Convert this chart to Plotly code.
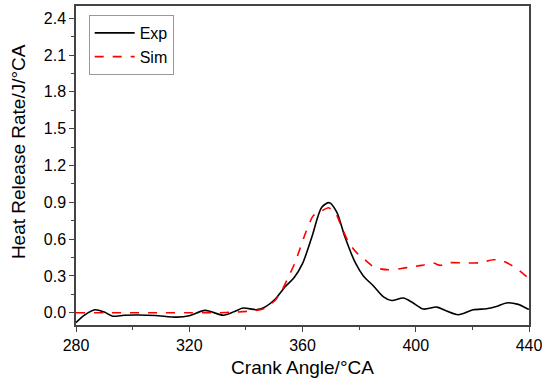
import plotly.graph_objects as go

exp_x = [280, 283, 286.7, 290, 293, 297, 302, 308, 315.6, 320, 325.6, 332, 336, 339, 344, 347,
         350.3, 353.8, 357, 360, 363.3, 366.8, 369.5, 372.1, 375, 378.6, 381.5, 385, 388.6, 391.5,
         395.6, 398.6, 402.7, 407.4, 410.3, 415, 420.3, 425, 428.5, 432, 436.2, 439.4, 440]
exp_y = [-0.08, -0.02, 0.024, 0.005, -0.028, -0.02, -0.018, -0.022, -0.036, -0.025, 0.019, -0.02, 0.01, 0.038, 0.025, 0.05,
         0.11, 0.21, 0.285, 0.40, 0.617, 0.86, 0.897, 0.82, 0.617, 0.41, 0.30, 0.22, 0.13, 0.10,
         0.12, 0.087, 0.03, 0.046, 0.02, -0.016, 0.024, 0.033, 0.05, 0.08, 0.068, 0.033, 0.028]

sim_x = [280, 290, 300, 310, 320, 330, 336, 341.5, 346, 350.3, 352.7, 355, 357.4, 360.9, 363.8,
         366.8, 369.1, 371.5, 373.8, 376.2, 379.1, 382.1, 385.6, 390.3, 395, 398, 402.1, 406.2,
         408.6, 412.1, 418, 422.7, 427.4, 431, 435.7, 439.8, 440]
sim_y = [0.0, 0.0, 0.0, 0.0, 0.0, 0.0, 0.005, 0.013, 0.03, 0.10, 0.18, 0.29, 0.41, 0.64, 0.79,
         0.83, 0.856, 0.82, 0.70, 0.576, 0.49, 0.43, 0.367, 0.35, 0.36, 0.372, 0.386, 0.405,
         0.386, 0.408, 0.405, 0.408, 0.432, 0.42, 0.36, 0.28, 0.27]

x_ticks = [280, 320, 360, 400, 440]
y_ticks = [0.0, 0.3, 0.6, 0.9, 1.2, 1.5, 1.8, 2.1, 2.4]
y_labels = ["0.0", "0.3", "0.6", "0.9", "1.2", "1.5", "1.8", "2.1", "2.4"]

font_family = "Liberation Sans, Arial, sans-serif"

fig = go.Figure()
fig.add_trace(go.Scatter(x=exp_x, y=exp_y, mode="lines", name="Exp",
                         line=dict(color="black", width=1.6, shape="spline", smoothing=0.8)))
fig.add_trace(go.Scatter(x=sim_x, y=sim_y, mode="lines", name="Sim",
                         line=dict(color="#ff0000", width=1.6, dash="dash", shape="spline", smoothing=0.6)))

axis_common = dict(showgrid=False, zeroline=False, showline=True, linecolor="#444444", linewidth=1.5,
                   mirror=True, ticks="outside", ticklen=5, tickwidth=1.2, tickcolor="#444444",
                   automargin=False,
                   tickfont=dict(size=16, color="black", family=font_family))

fig.update_xaxes(range=[280, 440], tickvals=x_ticks, ticktext=[str(v) for v in x_ticks],
                 minor=dict(dtick=20, tick0=280, ticks="outside", ticklen=3, tickcolor="#444444"),
                 title=dict(text="Crank Angle/°CA", font=dict(size=19, color="black", family=font_family), standoff=8),
                 **axis_common)
fig.update_yaxes(range=[-0.1, 2.5], tickvals=y_ticks, ticktext=y_labels,
                 minor=dict(dtick=0.15, tick0=0, ticks="outside", ticklen=3, tickcolor="#444444"),
                 **axis_common)

fig.add_annotation(text="Heat Release Rate/J/°CA", xref="paper", yref="paper",
                   x=-0.128, y=0.542, xanchor="center", yanchor="middle", textangle=-90,
                   showarrow=False, font=dict(size=19, color="black", family=font_family))

fig.update_layout(
    width=550, height=388,
    margin=dict(l=76, r=21, t=6, b=63),
    plot_bgcolor="white", paper_bgcolor="white",
    font=dict(family=font_family, color="black"),
    legend=dict(x=0.028, y=0.972, xanchor="left", yanchor="top",
                bgcolor="white", bordercolor="#999999", borderwidth=1,
                font=dict(size=16, color="black", family=font_family),
                tracegroupgap=0, itemwidth=40),
    showlegend=True,
)

fig.write_html("out.html", config={"displayModeBar": False},
               post_script="document.body.style.margin='0px';document.body.style.padding='0px';")
